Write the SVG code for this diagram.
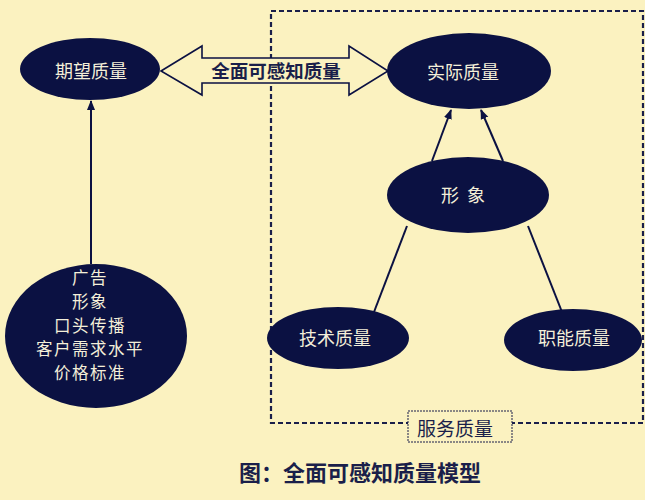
<svg xmlns="http://www.w3.org/2000/svg" width="645" height="500" viewBox="0 0 645 500">
<defs>
<style>
.node{fill:#0b1142;}
.nt{fill:#f4efd9;font-family:"Noto Sans CJK SC","Noto Sans CJK TC",sans-serif;font-size:18px;text-anchor:middle;dominant-baseline:central;}
.ft{font-size:16.5px;letter-spacing:1.5px;}
.line{stroke:#0b1142;stroke-width:2;fill:none;}
.dash{stroke:#1a1f4a;stroke-width:2.2;fill:none;stroke-dasharray:5,3;}
.dt{fill:#1a1f4a;font-family:"Noto Sans CJK SC","Noto Sans CJK TC",sans-serif;text-anchor:middle;dominant-baseline:central;}
</style>
<marker id="ah" markerWidth="10" markerHeight="10" viewBox="0 0 10 10" refX="9" refY="5" orient="auto" markerUnits="userSpaceOnUse">
<path d="M0,1 L10,5 L0,9 Z" fill="#0b1142"/>
</marker>
</defs>
<rect width="645" height="500" fill="#fbf2c0"/>
<g id="service-box">
<rect class="dash" x="271" y="11" width="372" height="412"/>
<rect x="408" y="411" width="104" height="31" fill="#fbf2c0" stroke="#1a1f4a" stroke-width="1" stroke-dasharray="2,1"/>
<text class="dt" x="455" y="427" font-size="19">服务质量</text>
</g>
<g id="connectors">
<path d="M161,71 L202,46 L202,58 L349,58 L349,46 L388,71 L349,95 L349,83 L202,83 L202,95 Z" fill="#fbf2c0" stroke="#0b1142" stroke-width="1.6" stroke-linejoin="miter"/>
<line class="line" x1="91" y1="264" x2="91" y2="101" marker-end="url(#ah)"/>
<line class="line" x1="432" y1="161" x2="451" y2="110" marker-end="url(#ah)"/>
<line class="line" x1="503" y1="161" x2="481" y2="110" marker-end="url(#ah)"/>
<line class="line" x1="407" y1="226" x2="374" y2="312"/>
<line class="line" x1="528" y1="226" x2="562" y2="312"/>
</g>
<text id="arrow-label" class="dt" x="276" y="70" font-size="18.5" font-weight="bold">全面可感知质量</text>
<g id="expected">
<ellipse class="node" cx="90" cy="69" rx="70" ry="31"/>
<text class="nt" x="91" y="70">期望质量</text>
</g>
<g id="actual">
<ellipse class="node" cx="469" cy="71" rx="82" ry="38"/>
<text class="nt" x="463" y="71">实际质量</text>
</g>
<g id="image">
<ellipse class="node" cx="468" cy="195" rx="81" ry="38"/>
<text class="nt" x="463" y="194" xml:space="preserve">形  象</text>
</g>
<g id="technical">
<ellipse class="node" cx="338" cy="338" rx="71" ry="31"/>
<text class="nt" x="335" y="337">技术质量</text>
</g>
<g id="functional">
<ellipse class="node" cx="573" cy="340" rx="69" ry="31"/>
<text class="nt" x="574" y="337">职能质量</text>
</g>
<g id="factors">
<ellipse class="node" cx="96" cy="336" rx="91" ry="72"/>
<text class="nt ft" x="90" y="277">广告</text>
<text class="nt ft" x="90" y="301">形象</text>
<text class="nt ft" x="90" y="325">口头传播</text>
<text class="nt ft" x="90" y="348">客户需求水平</text>
<text class="nt ft" x="90" y="372">价格标准</text>
</g>
<text id="caption" class="dt" x="360" y="471" font-size="22" font-weight="bold">图：全面可感知质量模型</text>
</svg>
